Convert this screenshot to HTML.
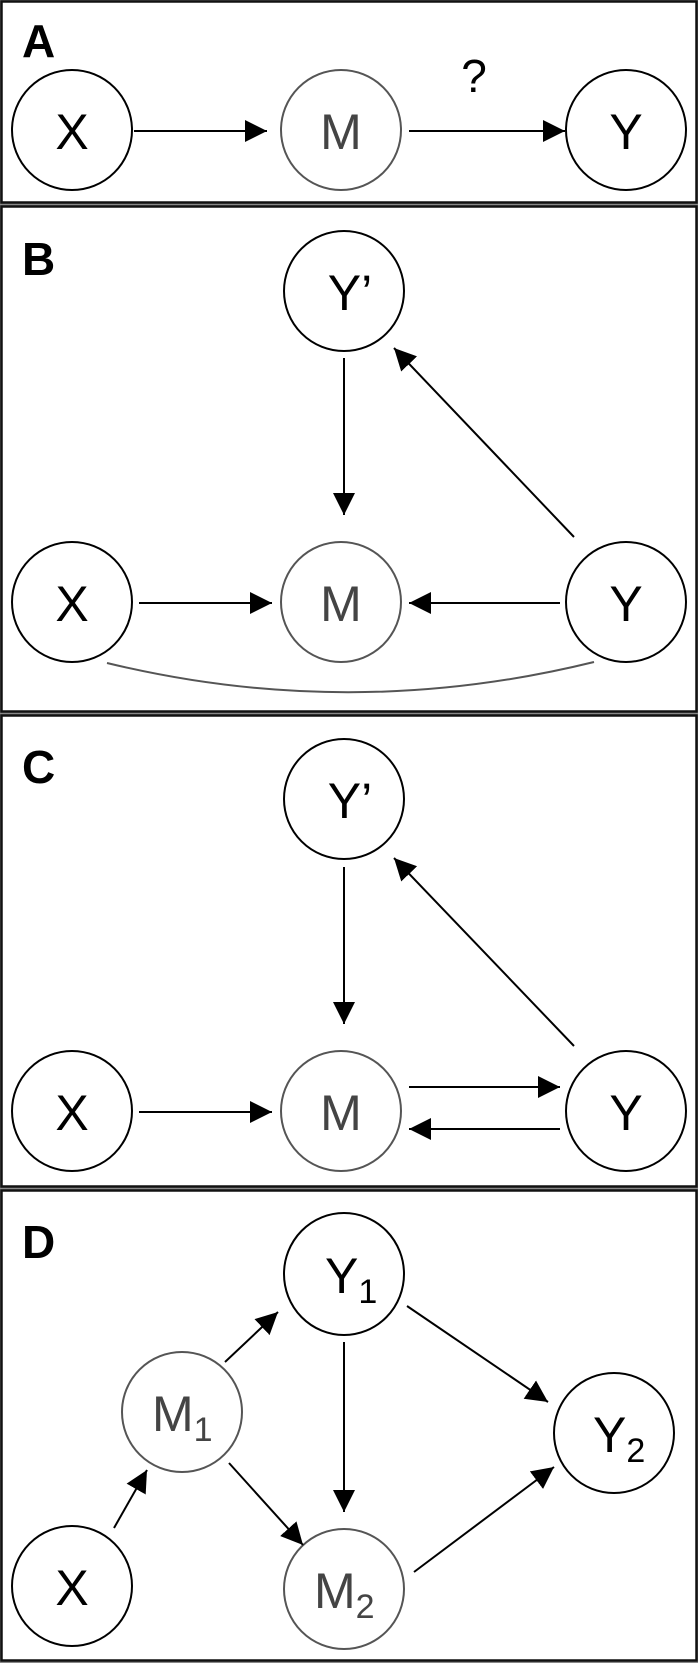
<!DOCTYPE html>
<html><head><meta charset="utf-8"><style>
html,body{margin:0;padding:0;background:#fff;}
svg{display:block;}
text{font-family:"Liberation Sans",Arial,sans-serif;}
</style></head><body>
<svg width="698" height="1663" viewBox="0 0 698 1663" xmlns="http://www.w3.org/2000/svg">
<defs>
<marker id="ah" markerUnits="userSpaceOnUse" markerWidth="24" markerHeight="24" refX="22" refY="11" orient="auto">
<path d="M0,0 L22,11 L0,22 Z" fill="#000"/>
</marker>
</defs>
<rect x="0" y="0" width="698" height="1663" fill="#888"/>
<g fill="#fff" stroke="#111" stroke-width="2.5">
<rect x="1.5" y="1.5" width="695" height="201"/>
<rect x="1.5" y="206.5" width="695" height="505"/>
<rect x="1.5" y="715.5" width="695" height="471"/>
<rect x="1.5" y="1190.5" width="695" height="470"/>
</g>
<g font-weight="bold" font-size="46" fill="#000">
<text x="22" y="57">A</text>
<text x="22" y="275">B</text>
<text x="22" y="783">C</text>
<text x="22" y="1258">D</text>
</g>
<g stroke="#000" stroke-width="2" fill="#fff">
<ellipse cx="72" cy="130" rx="60" ry="60"/>
<ellipse cx="341" cy="130" rx="60" ry="60" stroke="#555"/>
<ellipse cx="626" cy="130" rx="60" ry="60"/>
<ellipse cx="344" cy="291" rx="60" ry="60"/>
<ellipse cx="72" cy="602" rx="60" ry="60"/>
<ellipse cx="341" cy="602" rx="60" ry="60" stroke="#555"/>
<ellipse cx="626" cy="602" rx="60" ry="60"/>
<ellipse cx="344" cy="799" rx="60" ry="60"/>
<ellipse cx="72" cy="1111" rx="60" ry="60"/>
<ellipse cx="341" cy="1111" rx="60" ry="60" stroke="#555"/>
<ellipse cx="626" cy="1111" rx="60" ry="60"/>
<ellipse cx="344" cy="1274" rx="60" ry="61"/>
<ellipse cx="182" cy="1412" rx="60" ry="60" stroke="#555"/>
<ellipse cx="72" cy="1586" rx="60" ry="60"/>
<ellipse cx="344" cy="1589" rx="60" ry="60" stroke="#555"/>
<ellipse cx="614" cy="1433" rx="60" ry="60"/>
</g>
<g stroke="#000" stroke-width="2" fill="none" marker-end="url(#ah)">
<line x1="134" y1="131" x2="267" y2="131"/>
<line x1="409" y1="131" x2="565" y2="131"/>
<line x1="344" y1="358" x2="344" y2="515"/>
<line x1="574" y1="537" x2="394" y2="348"/>
<line x1="139" y1="603" x2="272" y2="603"/>
<line x1="560" y1="603" x2="409" y2="603"/>
<line x1="344" y1="867" x2="344" y2="1024"/>
<line x1="574" y1="1046" x2="394" y2="858"/>
<line x1="139" y1="1112" x2="272" y2="1112"/>
<line x1="409" y1="1087" x2="560" y2="1087"/>
<line x1="560" y1="1129" x2="409" y2="1129"/>
<line x1="225" y1="1362" x2="278" y2="1312"/>
<line x1="407" y1="1306" x2="548" y2="1402"/>
<line x1="344" y1="1342" x2="344" y2="1512"/>
<line x1="229" y1="1463" x2="303" y2="1545"/>
<line x1="114" y1="1528" x2="147" y2="1470"/>
<line x1="414" y1="1572" x2="554" y2="1467"/>
</g>
<path d="M107,663 Q350,722 594,662" stroke="#555" stroke-width="2" fill="none"/>
<text x="474" y="92" font-size="46" text-anchor="middle" fill="#000">?</text>
<g font-size="50" text-anchor="middle" fill="#000">
<text x="72" y="149">X</text>
<text x="341" y="149" fill="#444">M</text>
<text x="626" y="149">Y</text>
<text x="350" y="310">Y’</text>
<text x="72" y="621">X</text>
<text x="341" y="621" fill="#444">M</text>
<text x="626" y="621">Y</text>
<text x="350" y="818">Y’</text>
<text x="72" y="1130">X</text>
<text x="341" y="1130" fill="#444">M</text>
<text x="626" y="1130">Y</text>
<text x="72" y="1605">X</text>
</g>
<g font-size="50" fill="#000">
<text x="325" y="1293">Y<tspan font-size="34" dy="10">1</tspan></text>
<text x="152" y="1431" fill="#444">M<tspan font-size="34" dy="10">1</tspan></text>
<text x="314" y="1608" fill="#444">M<tspan font-size="34" dy="10">2</tspan></text>
<text x="593" y="1452">Y<tspan font-size="34" dy="10">2</tspan></text>
</g>
</svg>
</body></html>
